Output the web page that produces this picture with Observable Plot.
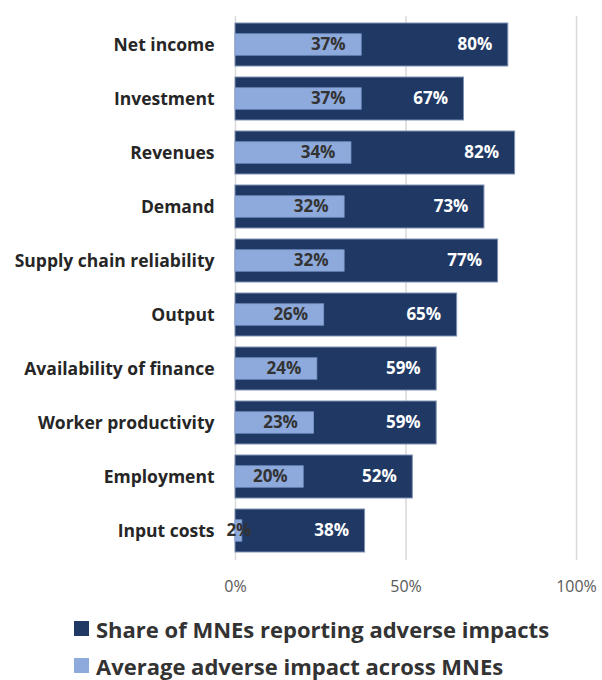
<!DOCTYPE html>
<html>
<head>
<meta charset="utf-8">
<script src="https://cdn.jsdelivr.net/npm/d3@7"></script>
<script src="https://cdn.jsdelivr.net/npm/@observablehq/plot@0.6"></script>
<style>
  html, body { margin: 0; padding: 0; background: #ffffff; }
  body { width: 602px; height: 680px; overflow: hidden; font-family: "Open Sans", sans-serif; }
  #chart svg { display: block; }
  .legend { position: relative; margin-left: 74px; margin-top: 10px; }
  .legend .item { display: flex; align-items: center; height: 37px; font-weight: bold; font-size: 22px; line-height: 26px; color: #333333; white-space: nowrap; }
  .legend .sw { width: 15px; height: 15px; margin-right: 7px; flex: none; }
</style>
</head>
<body>
<div id="chart"></div>
<div class="legend" id="legend"></div>
<script>
const categories = ["Net income", "Investment", "Revenues", "Demand", "Supply chain reliability", "Output", "Availability of finance", "Worker productivity", "Employment", "Input costs"];
const shareValues = [80, 67, 82, 73, 77, 65, 59, 59, 52, 38];
const averageValues = [37, 37, 34, 32, 32, 26, 24, 23, 20, 2];
const xTicks = [0, 50, 100];
const seriesNames = ["Share of MNEs reporting adverse impacts", "Average adverse impact across MNEs"];
const seriesColors = ["#203864", "#8eaadc"];

const rows = categories.map((c, i) => ({category: c, share: shareValues[i], avg: averageValues[i]}));

const plot = Plot.plot({
  width: 602,
  height: 600,
  marginLeft: 235,
  marginRight: 26,
  marginTop: 16,
  marginBottom: 40,
  style: {fontFamily: "'Open Sans', sans-serif", background: "#ffffff"},
  x: {domain: [0, 100]},
  y: {domain: categories, paddingInner: 0.2, paddingOuter: 0.11},
  marks: [
    Plot.ruleX(xTicks, {stroke: "#d9d9d9", strokeWidth: 1.5}),
    Plot.barX(rows, {y: "category", x: "share", fill: seriesColors[0], stroke: "#7f91b3", strokeWidth: 1}),
    Plot.barX(rows, {y: "category", x: "avg", fill: seriesColors[1], stroke: "#7d99cc", strokeWidth: 0.8, insetTop: 10.8, insetBottom: 10.8}),
    Plot.text(rows, {y: "category", x: "share", text: d => d.share + "%", textAnchor: "end", dx: -16, fill: "#ffffff", fontWeight: "bold", fontSize: 17}),
    Plot.text(rows.filter(d => d.avg >= 10), {y: "category", x: "avg", text: d => d.avg + "%", textAnchor: "end", dx: -16, fill: "#333333", fontWeight: "bold", fontSize: 17}),
    Plot.text(rows.filter(d => d.avg < 10), {y: "category", x: d => d.avg / 2, text: d => d.avg + "%", textAnchor: "middle", fill: "#333333", fontWeight: "bold", fontSize: 17}),
    Plot.axisY({tickSize: 0, tickPadding: 21, fontSize: 17.5, fontWeight: "bold", color: "#262626", label: null}),
    Plot.axisX({ticks: xTicks, tickFormat: d => d + "%", tickSize: 0, tickPadding: 20, fontSize: 16, color: "#595959", label: null})
  ]
});
document.getElementById("chart").appendChild(plot);

const legend = document.getElementById("legend");
seriesNames.forEach((name, i) => {
  const item = document.createElement("div");
  item.className = "item";
  const sw = document.createElement("span");
  sw.className = "sw";
  sw.style.background = seriesColors[i];
  const label = document.createElement("span");
  label.textContent = name;
  item.appendChild(sw);
  item.appendChild(label);
  legend.appendChild(item);
});
</script>
</body>
</html>
